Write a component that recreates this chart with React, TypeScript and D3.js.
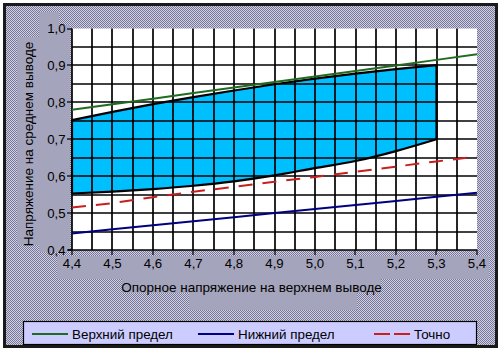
import React from "react";
import * as d3 from "d3";

const xValues = [4.4, 4.5, 4.6, 4.7, 4.8, 4.9, 5.0, 5.1, 5.2, 5.3, 5.4];
const upperLimit = [0.78, 0.795, 0.81, 0.825, 0.84, 0.855, 0.87, 0.885, 0.9, 0.915, 0.93];
const lowerLimit = [0.445, 0.456, 0.467, 0.478, 0.489, 0.5, 0.511, 0.522, 0.533, 0.544, 0.555];
const exactValues = [0.515, 0.527, 0.543, 0.558, 0.571, 0.585, 0.598, 0.612, 0.626, 0.64, 0.653];

const regionX = [4.4, 4.5, 4.6, 4.7, 4.8, 4.9, 5.0, 5.1, 5.2, 5.3];
const regionTop = [0.752, 0.774, 0.795, 0.814, 0.832, 0.849, 0.864, 0.878, 0.89, 0.901];
const regionBottom = [0.553, 0.558, 0.565, 0.574, 0.586, 0.602, 0.622, 0.641, 0.668, 0.7];

const xTickValues = [4.4, 4.5, 4.6, 4.7, 4.8, 4.9, 5.0, 5.1, 5.2, 5.3, 5.4];
const yTickValues = [0.4, 0.5, 0.6, 0.7, 0.8, 0.9, 1.0];
const xGridValues = d3.range(1, 20).map((i) => 4.4 + i * 0.05);
const yGridValues = d3.range(1, 12).map((i) => 0.4 + i * 0.05);

const legendItems = [
  { label: "Верхний предел", color: "#1f6b1f", dash: "", x: 32 },
  { label: "Нижний предел", color: "#000080", dash: "", x: 198 },
  { label: "Точно", color: "#c81e1e", dash: "16,4", x: 374 },
];

const fmt = (v: number) => v.toFixed(1).replace(".", ",");
const FONT = "'Liberation Sans', Arial, sans-serif";

export default function App() {
  const x = d3.scaleLinear().domain([4.4, 5.4]).range([72, 477]);
  const y = d3.scaleLinear().domain([0.4, 1.0]).range([250, 28.5]);

  const line = d3
    .line<number>()
    .x((_, i) => x(xValues[i]))
    .y((d) => y(d));

  const topPts: [number, number][] = regionX.map((v, i) => [x(v), y(regionTop[i])]);
  const botPts: [number, number][] = regionX.map((v, i) => [x(v), y(regionBottom[i])]);
  const edge = d3.line().curve(d3.curveMonotoneX);
  const topPath = edge(topPts) as string;
  const botRev = edge(botPts.slice().reverse()) as string;
  const regionPath = topPath + "L" + botRev.slice(1) + "Z";

  const bg = "#a4a4bc";

  return (
    <svg
      width={501}
      height={352}
      style={{ position: "fixed", left: 0, top: 0 }}
      fontFamily={FONT}
    >
      <defs>
        <pattern id="dither" width={2} height={2} patternUnits="userSpaceOnUse">
          <rect width={2} height={2} fill="#d2d2dc" />
          <rect width={1} height={1} fill="#7676a0" />
          <rect x={1} y={1} width={1} height={1} fill="#7676a0" />
        </pattern>
      </defs>
      <rect x={0} y={0} width={501} height={352} fill="#ffffff" />
      <rect x={4.5} y={4.5} width={492} height={342} fill="url(#dither)" stroke="#1a1a1a" strokeWidth={3} />

      {/* solid label backgrounds */}
      <rect x={17} y={37} width={22} height={208} fill={bg} />
      <rect x={39} y={12} width={20} height={240} fill={bg} />
      <rect x={39} y={25} width={31} height={227} fill={bg} />
      <rect x={57} y={256} width={432} height={23} fill={bg} />
      <rect x={122} y={279} width={259} height={14} fill={bg} />
      <rect x={189} y={279} width={168} height={31} fill={bg} />

      {/* plot area */}
      <rect x={72} y={28.5} width={405} height={221.5} fill="#ffffff" />
      <path d={regionPath} fill="#00bfff" />

      {/* grid */}
      {xGridValues.map((v, i) => (
        <line key={"gx" + i} x1={Math.round(x(v))} x2={Math.round(x(v))} y1={28.5} y2={250} stroke="#000" strokeWidth={1.7} />
      ))}
      {yGridValues.map((v, i) => (
        <line key={"gy" + i} x1={72} x2={477} y1={Math.round(y(v))} y2={Math.round(y(v))} stroke="#000" strokeWidth={1.7} />
      ))}

      <path d={regionPath} fill="none" stroke="#000" strokeWidth={2.2} strokeLinejoin="round" />

      {/* axes */}
      <line x1={72} x2={72} y1={28.5} y2={250} stroke="#000" strokeWidth={1.7} />
      <line x1={68} x2={477} y1={250} y2={250} stroke="#000" strokeWidth={1.7} />
      {yTickValues.map((v, i) => (
        <g key={"yt" + i}>
          <line x1={67} x2={72} y1={Math.round(y(v))} y2={Math.round(y(v))} stroke="#000" strokeWidth={1.2} />
          <text x={65.5} y={y(v)} dy="0.36em" textAnchor="end" fontSize={13.2} fill="#000">
            {fmt(v)}
          </text>
        </g>
      ))}
      {xTickValues.map((v, i) => (
        <g key={"xt" + i}>
          <line x1={Math.round(x(v))} x2={Math.round(x(v))} y1={250} y2={255} stroke="#000" strokeWidth={1.2} />
          <text x={x(v)} y={267.5} textAnchor="middle" fontSize={13.2} fill="#000">
            {fmt(v)}
          </text>
        </g>
      ))}

      {/* series */}
      <path d={line(upperLimit) as string} fill="none" stroke="#1f6b1f" strokeWidth={2} />
      <path d={line(lowerLimit) as string} fill="none" stroke="#000080" strokeWidth={2} />
      <path d={line(exactValues) as string} fill="none" stroke="#c81e1e" strokeWidth={2} strokeDasharray="14,10" />

      {/* axis titles */}
      <text x={251.5} y={291.5} textAnchor="middle" fontSize={13.5} fill="#000">
        Опорное напряжение на верхнем выводе
      </text>
      <text transform="translate(32.5,144) rotate(-90)" textAnchor="middle" fontSize={13.5} fill="#000">
        Напряжение на среднем выводе
      </text>

      {/* legend */}
      <rect x={23.5} y={321.5} width={453} height={23} fill="#ccccff" stroke="#000" strokeWidth={1.2} />
      {legendItems.map((it, i) => (
        <g key={"lg" + i}>
          <line x1={it.x} x2={it.x + 36} y1={334} y2={334} stroke={it.color} strokeWidth={2} strokeDasharray={it.dash || undefined} />
          <text x={it.x + 40} y={338.5} fontSize={13.4} fill="#000">
            {it.label}
          </text>
        </g>
      ))}
    </svg>
  );
}
